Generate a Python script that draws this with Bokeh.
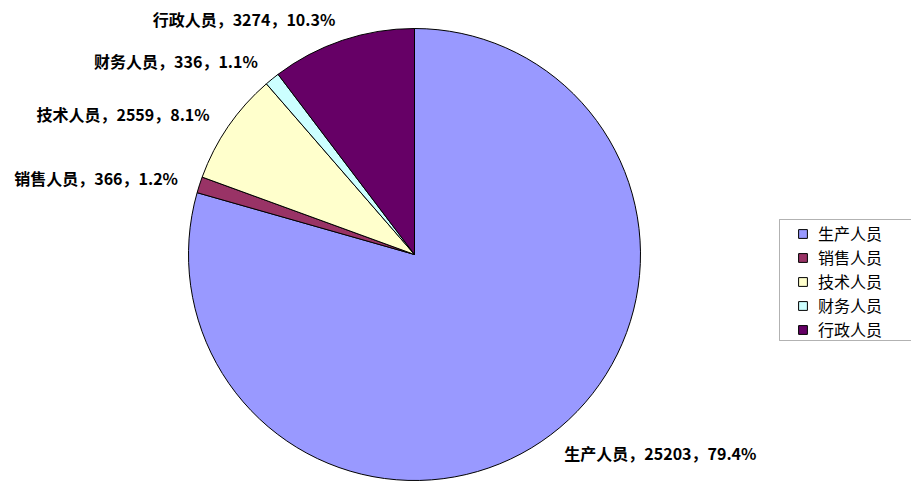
import math
from bokeh.plotting import figure
from bokeh.models import ColumnDataSource, Range1d, BoxAnnotation
from bokeh.core.properties import value
from bokeh.embed import file_html
from bokeh.resources import INLINE

# ---- data ----
categories = ["生产人员", "销售人员", "技术人员", "财务人员", "行政人员"]
counts = [25203, 366, 2559, 336, 3274]
colors = ["#9999FF", "#993366", "#FFFFCC", "#CCFFFF", "#660066"]

# ---- layout (data units = screen pixels) ----
W, H = 911, 483
cx, cy, R = 414, 229, 226

total = sum(counts)
starts, ends, lx, ly, labels, aligns = [], [], [], [], [], []
cum = 0.0
for name, c in zip(categories, counts):
    f0 = cum / total
    cum += c
    f1 = cum / total
    a0 = math.pi / 2 - f0 * 2 * math.pi
    a1 = math.pi / 2 - f1 * 2 * math.pi
    starts.append(a0)
    ends.append(a1)
    mid = (a0 + a1) / 2
    lx.append(cx + 1.1 * R * math.cos(mid))
    ly.append(cy + 1.1 * R * math.sin(mid))
    aligns.append("left" if math.cos(mid) >= 0 else "right")
    labels.append(f"{name}，{c}，{c / total * 100:.1f}%")

src = ColumnDataSource(dict(name=categories, start=starts, end=ends, color=colors))
lsrc = ColumnDataSource(dict(x=lx, y=ly, text=labels, align=aligns))

p = figure(width=W, height=H, output_backend="svg", toolbar_location=None,
           x_range=Range1d(0, W), y_range=Range1d(0, H), min_border=0)
p.axis.visible = False
p.xgrid.visible = False
p.ygrid.visible = False
p.outline_line_color = None
p.background_fill_color = "white"

p.wedge(x=cx, y=cy, radius=R, start_angle="start", end_angle="end",
        direction="clock", fill_color="color", line_color="black", line_width=1,
        legend_field="name", source=src)

p.text(x="x", y="y", text="text", text_align="align", text_baseline="middle",
       text_font=value("Noto Sans CJK SC"), text_font_style="bold",
       text_font_size="16px", text_color="black", source=lsrc)

# legend frame
p.add_layout(BoxAnnotation(left=779, right=915, bottom=H - 340, top=H - 219,
                           fill_alpha=0, line_color="black", line_width=1))

lg = p.legend[0]
lg.location = (797, 142)
lg.border_line_color = None
lg.background_fill_alpha = 0
lg.label_text_font = "Noto Sans CJK SC"
lg.label_text_font_size = "16px"
lg.label_text_color = "black"
lg.glyph_width = 11
lg.glyph_height = 11
lg.label_height = 20
lg.spacing = 0
lg.padding = 4
lg.margin = 0
lg.label_standoff = 10

open("out.html", "w").write(file_html(p, INLINE))
